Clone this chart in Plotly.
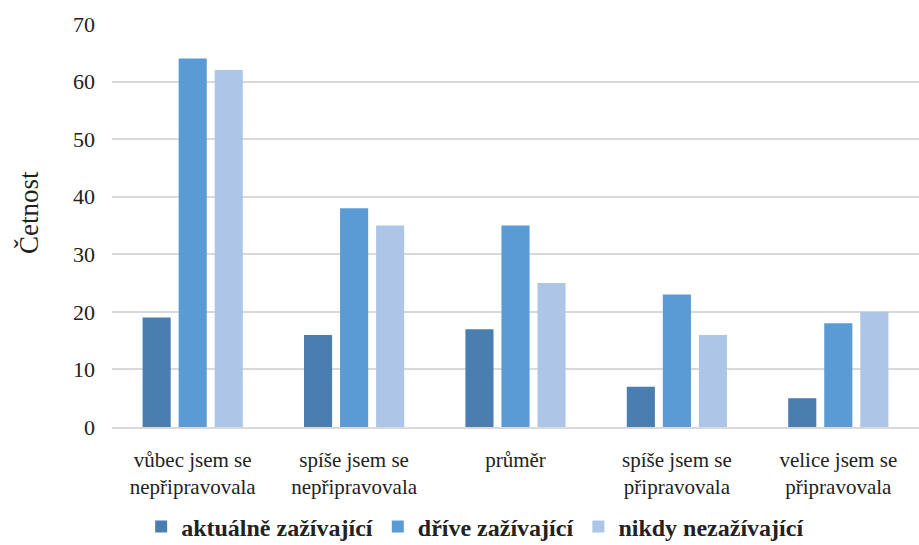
import plotly.graph_objects as go

categories = ["vůbec jsem se<br>nepřipravovala", "spíše jsem se<br>nepřipravovala",
              "průměr", "spíše jsem se<br>připravovala", "velice jsem se<br>připravovala"]
series_names = ["aktuálně zažívající", "dříve zažívající", "nikdy nezažívající"]
aktualne = [19, 16, 17, 7, 5]
drive = [64, 38, 35, 23, 18]
nikdy = [62, 35, 25, 16, 20]
colors = ["#4A7EB1", "#5B9BD5", "#ADC6E7"]

fig = go.Figure()
for name, vals, col in zip(series_names, [aktualne, drive, nikdy], colors):
    fig.add_trace(go.Bar(x=categories, y=vals, name=name, marker_color=col,
                         marker_line_width=0))

font_family = "Times New Roman, Liberation Serif, serif"
fig.update_layout(
    width=919, height=545,
    margin=dict(l=112, r=0, t=24, b=118, autoexpand=False),
    paper_bgcolor="white", plot_bgcolor="white",
    barmode="group", bargap=0.33, bargroupgap=0.22,
    font=dict(family=font_family, color="#222222", size=21),
    yaxis=dict(range=[0, 70], dtick=10, showgrid=True, gridcolor="#D9D9D9",
               gridwidth=1.5, zeroline=False, ticks="", ticklen=0,
               ticklabelstandoff=16, automargin=False,
               tickfont=dict(size=22, family=font_family)),
    xaxis=dict(showline=True, linecolor="#D9D9D9", linewidth=1.5, ticks="",
               ticklabelstandoff=13, automargin=False,
               tickfont=dict(size=21, family=font_family)),
    legend=dict(orientation="h", x=0.45, xanchor="center", y=-0.248, yanchor="middle",
                font=dict(size=24, family=font_family, weight="bold"),
                itemwidth=30, traceorder="normal"),
    annotations=[dict(text="Četnost", xref="paper", yref="paper",
                      x=-0.102, y=0.533, textangle=-90, showarrow=False,
                      xanchor="center", yanchor="middle",
                      font=dict(size=27, family=font_family, color="#222222"))],
)

fig.write_html("out.html")
